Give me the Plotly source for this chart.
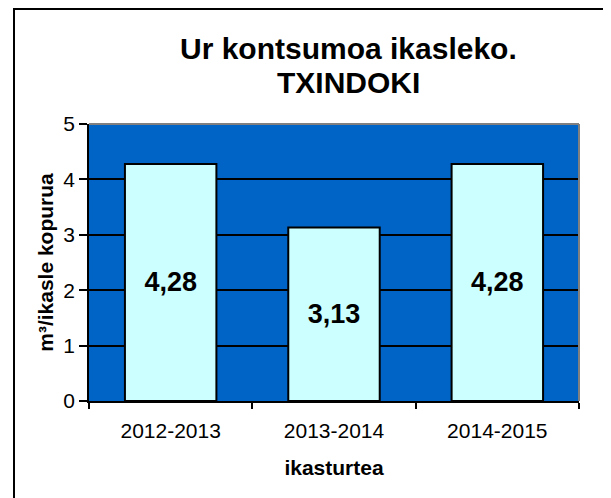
import plotly.graph_objects as go

categories = ["2012-2013", "2013-2014", "2014-2015"]
values = [4.28, 3.13, 4.28]
labels = ["4,28", "3,13", "4,28"]
y_ticks = [0, 1, 2, 3, 4, 5]
title_lines = ["Ur kontsumoa ikasleko.", "TXINDOKI"]

FONT = "Liberation Sans, Arial, sans-serif"

# figure is drawn inside the page's default 8px body margin
W, H = 603, 490
L, R, T, B = 81, 32, 116, 97
PW, PH = W - L - R, H - T - B


def py(pix):
    """figure pixel (from top) -> paper y"""
    return (T + PH - pix) / PH


def px(pix):
    return (pix - L) / PW


fig = go.Figure()
fig.add_trace(go.Bar(
    x=categories,
    y=values,
    text=labels,
    textposition="inside",
    insidetextanchor="middle",
    textangle=0,
    textfont=dict(family=FONT, size=27, color="black", weight=700),
    marker=dict(color="#CCFFFF", line=dict(color="black", width=2)),
    width=0.56,
    hoverinfo="skip",
))

fig.update_layout(
    width=W, height=H,
    margin=dict(l=L, r=R, t=T, b=B),
    paper_bgcolor="white",
    plot_bgcolor="#0063C6",
    showlegend=False,
    uniformtext=dict(minsize=10, mode="show"),
)

# two-line title
for line, ycen in zip(title_lines, [41, 74.5]):
    fig.add_annotation(
        text=line, xref="paper", yref="paper",
        x=px(340), y=py(ycen), xanchor="center", yanchor="middle",
        showarrow=False,
        font=dict(family=FONT, size=30, color="black", weight=700),
    )

fig.update_xaxes(
    range=[-0.5, 2.5],
    tickson="boundaries",
    ticks="outside", ticklen=6, tickwidth=1.5, tickcolor="black",
    showline=True, linecolor="black", linewidth=1.5,
    showgrid=False,
    ticklabelstandoff=10,
    tickfont=dict(family=FONT, size=21, color="black"),
    title=dict(text="ikasturtea", font=dict(family=FONT, size=21, color="black", weight=700), standoff=19),
)
fig.update_yaxes(
    range=[0, 5],
    tickvals=y_ticks,
    ticks="outside", ticklen=8, tickwidth=1.5, tickcolor="black",
    showline=True, linecolor="black", linewidth=1.5,
    showgrid=True, gridcolor="black", gridwidth=1.5,
    zeroline=False,
    tickfont=dict(family=FONT, size=21, color="black"),
    title=dict(text="m³/ikasle kopurua", font=dict(family=FONT, size=21, color="black", weight=700), standoff=4),
)

# grey plot-area border on top and right
fig.add_shape(type="line", xref="paper", yref="paper", x0=0, x1=1, y0=1, y1=1,
              line=dict(color="#808080", width=2), layer="above")
fig.add_shape(type="line", xref="paper", yref="paper", x0=1, x1=1, y0=0, y1=1,
              line=dict(color="#808080", width=2), layer="above")

# outer chart frame
fig.add_shape(type="rect", xref="paper", yref="paper",
              x0=px(6), x1=px(599), y0=py(520), y1=py(1),
              line=dict(color="black", width=2), fillcolor="rgba(0,0,0,0)", layer="below")

fig.write_html("out.html")
